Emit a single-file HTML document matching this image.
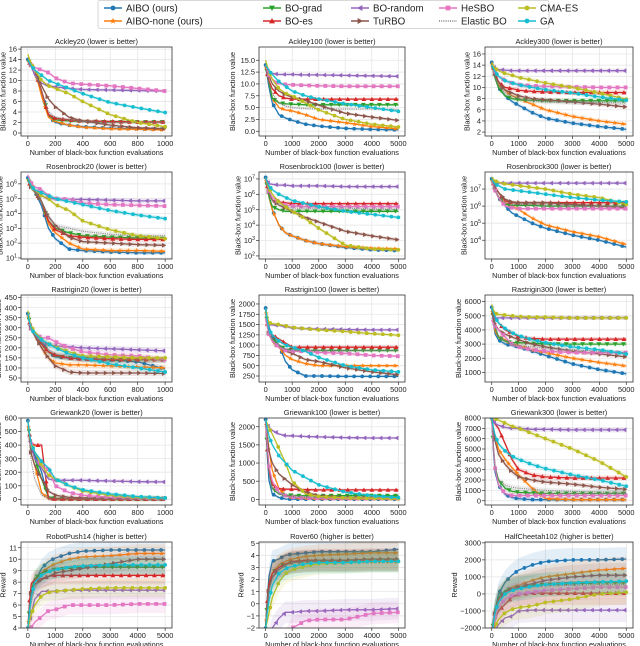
<!DOCTYPE html>
<html><head><meta charset="utf-8"><style>
html,body{margin:0;padding:0;background:#fff}
svg{display:block;font-family:"Liberation Sans","DejaVu Sans",sans-serif}
</style></head><body>
<svg id="fig" width="640" height="646" viewBox="0 0 640 646" xmlns="http://www.w3.org/2000/svg"></svg>
<script>
const seriesNames=["AIBO (ours)","AIBO-none (ours)","BO-grad","BO-es","BO-random","TuRBO","HeSBO","Elastic BO","CMA-ES","GA"];
const seriesColors=["#1f77b4","#ff7f0e","#2ca02c","#d62728","#9467bd","#8c564b","#e377c2","#7f7f7f","#bcbd22","#17becf"];
const seriesMarkers=["circle","star","tdown","tup","tleft","tright","square","none","circle","circle"];
const xFractions=[0,0.02,0.05,0.1,0.15,0.2,0.3,0.4,0.6,0.8,1.0];
const panelTitles=["Ackley20 (lower is better)","Ackley100 (lower is better)","Ackley300 (lower is better)","Rosenbrock20 (lower is better)","Rosenbrock100 (lower is better)","Rosenbrock300 (lower is better)","Rastrigin20 (lower is better)","Rastrigin100 (lower is better)","Rastrigin300 (lower is better)","Griewank20 (lower is better)","Griewank100 (lower is better)","Griewank300 (lower is better)","RobotPush14 (higher is better)","Rover60 (higher is better)","HalfCheetah102 (higher is better)"];
const panelXMax=[1000,5000,5000,1000,5000,5000,1000,5000,5000,1000,5000,5000,5000,5000,5000];
const panelLog=[0,0,0,1,1,1,0,0,0,0,0,0,0,0,0];
const panelYMin=[-0.57,-1,1.3,0.93,1.8,2.9,30,104,320,-42,-155,-417,4,-2,-2000];
const panelYMax=[16.4,17.8,17.25,6.8,7.45,8.0,463,2218,6470,600,2240,8000,11.5,5.1,3050];
const panelYTicks=[[0,2,4,6,8,10,12,14,16],[0,2.5,5,7.5,10,12.5,15],[2,4,6,8,10,12,14,16],[1,2,3,4,5,6],[2,3,4,5,6,7],[4,5,6,7],[50,100,150,200,250,300,350,400,450],[250,500,750,1000,1250,1500,1750,2000],[1000,2000,3000,4000,5000,6000],[0,100,200,300,400,500,600],[0,500,1000,1500,2000],[0,1000,2000,3000,4000,5000,6000,7000,8000],[4,5,6,7,8,9,10,11],[-2,-1,0,1,2,3,4,5],[-2000,-1000,0,1000,2000,3000]];
const panelYTickLabels=[["0","2","4","6","8","10","12","14","16"],["0.0","2.5","5.0","7.5","10.0","12.5","15.0"],["2","4","6","8","10","12","14","16"],["1","2","3","4","5","6"],["2","3","4","5","6","7"],["4","5","6","7"],["50","100","150","200","250","300","350","400","450"],["250","500","750","1000","1250","1500","1750","2000"],["1000","2000","3000","4000","5000","6000"],["0","100","200","300","400","500","600"],["0","500","1000","1500","2000"],["0","1000","2000","3000","4000","5000","6000","7000","8000"],["4","5","6","7","8","9","10","11"],["\u22122","\u22121","0","1","2","3","4","5"],["\u22122000","\u22121000","0","1000","2000","3000"]];
const panelBand=[0.3,0.3,0.4,0.15,0.12,0.1,15,40,150,15,40,250,0.8,0.9,700];
const panelValues=[
[[14,13,12,8,3.2,2,1.5,1.2,0.9,0.8,0.7],[14,13,12,7,3,2.2,1.5,1.1,0.8,0.7,0.6],[14,13,12,8,3.5,2.5,2.3,2.2,2.1,2.1,2.1],[14,13,12,8,3.5,2.8,2.5,2.3,2.2,2.1,2.1],[14,13,11,9.5,9,8.8,8.5,8.3,8.2,8.1,8.0],[14,13,12,9,6.5,5,3,2.3,1.5,1,0.8],[14,13,12.5,12,11.5,10.5,9.5,9.3,9,8.5,8.0],[14,13,12,8,4,3,2.5,2.2,2,2,2],[15,13.5,12,10,9,8.5,7.5,6,3.5,2,1.2],[14,13,12,11,10,9.5,8.5,7.5,5.8,4.8,3.9]],
[[14,10,6,3.5,2.8,2.3,1.5,1.1,0.6,0.4,0.3],[14,11,7,5,4.5,4.3,3.5,2.5,1.8,1,0.5],[14,11,7,6,5.8,5.7,5.6,5.6,5.6,5.6,5.6],[14,11,9,7.5,7,6.8,6.8,6.8,6.8,6.8,6.8],[14,12.5,12.2,12,12,12,11.9,11.9,11.8,11.7,11.6],[14,12,10,8.5,7.7,7.2,6.5,5.5,3.8,3,2.3],[14,12,11,10,9.9,9.8,9.7,9.6,9.5,9.5,9.5],[14,11,8,6,5.3,5,4.8,4.7,4.7,4.7,4.6],[15,13,11,9,8,7.5,6,4.5,2.5,1.5,0.9],[14,13,12,10.5,9.5,8.5,7.5,6.8,5.8,5,4.2]],
[[14.5,12,10,8.5,7.5,6.8,5.5,4.5,3.6,3.0,2.5],[14.5,12,10.5,9.5,8.5,8,7,6,4.8,4,3.4],[14.5,12,10,8.5,8,7.8,7.7,7.6,7.6,7.6,7.6],[14.5,13,11,10,9.8,9.5,9.3,9.2,9.1,9.1,9.1],[14,13.5,13.2,13.1,13,13,13,13,13,13,13],[14,12.5,11,9.5,9,8.5,8,7.8,7.4,7,6.5],[14,13,12,11.2,10.8,10.5,10.3,10.2,10.1,10,10],[14,12,10.5,9,8.5,8,7.6,7.4,7.3,7.3,7.2],[14.5,13.5,13,12.5,12.2,11.8,11.3,10.8,10,9,7.9],[14,13,12,11.2,10.8,10.5,10,9.6,9,8.3,7.7]],
[[6.4,5.8,5.5,4.5,3,2.3,1.6,1.5,1.4,1.35,1.35],[6.4,5.8,5.5,4.8,3.3,2.7,2,1.6,1.5,1.5,1.45],[6.4,5.8,5.5,4.8,3.5,3,2.7,2.5,2.4,2.35,2.3],[6.4,5.8,5.5,4.8,3.5,2.9,2.5,2.4,2.3,2.25,2.25],[6.4,6,5.6,5.2,5.0,5.0,4.95,4.95,4.9,4.85,4.85],[6.4,5.8,5.5,4.8,3.8,3.2,2.4,2.1,2,1.9,1.85],[6.6,6.1,5.8,5.6,5.2,5,4.95,4.7,4.6,4.55,4.5],[6.4,5.8,5.5,4.8,3.8,3.2,3,2.8,2.6,2.5,2.5],[6.4,5.9,5.6,5.2,5,4.6,4.2,3.5,2.9,2.5,2.3],[6.4,5.9,5.6,5.4,5.2,5,4.8,4.6,4.2,3.9,3.65]],
[[7.1,6,5,4,3.5,3.3,3,2.8,2.55,2.4,2.35],[7.1,6,5,4,3.5,3.3,3,2.8,2.6,2.5,2.45],[7.1,6,5.2,5,4.9,4.9,4.9,4.9,4.9,4.9,4.9],[7.1,6.2,5.6,5.5,5.45,5.4,5.4,5.4,5.4,5.4,5.4],[7.1,6.7,6.65,6.6,6.6,6.55,6.55,6.55,6.5,6.5,6.5],[7.1,6.2,5.6,5.3,5.1,4.9,4.5,4.2,3.6,3.3,3.05],[7.1,6.3,5.8,5.5,5.3,5.25,5.2,5.2,5.2,5.2,5.2],[7.1,6.2,5.6,5.3,5.2,5.1,5.1,5.1,5.1,5.05,5.05],[7.1,6.5,6,5.5,5.2,4.9,4.4,3.8,2.7,2.45,2.4],[7.1,6.6,6.3,6,5.8,5.6,5.4,5.2,4.9,4.7,4.5]],
[[7.6,7,6.5,6,5.6,5.4,5,4.7,4.3,4,3.6],[7.6,7,6.5,6.2,6,5.8,5.3,4.9,4.5,4.2,3.75],[7.6,7,6.5,6.1,6.05,6.05,6.05,6,6,6,6],[7.6,7.2,6.8,6.3,6.2,6.2,6.2,6.2,6.2,6.2,6.2],[7.4,7.35,7.35,7.35,7.35,7.35,7.35,7.35,7.35,7.35,7.35],[7.6,7.1,6.8,6.4,6.25,6.2,6.2,6.2,6.1,6,5.9],[7.5,7,6.5,6,5.9,5.85,5.85,5.85,5.85,5.85,5.85],[7.6,7,6.6,6.2,6.1,6.1,6.1,6.05,6,6,6],[7.7,7.5,7.4,7.3,7.25,7.2,7.1,7,6.7,6.5,6.1],[7.6,7.3,7.2,7.0,6.95,6.9,6.8,6.7,6.5,6.35,6.25]],
[[370,300,270,230,180,155,150,145,140,130,95],[370,300,270,200,150,125,115,115,110,105,100],[370,300,270,220,180,160,150,145,140,140,140],[370,300,270,220,180,165,150,145,142,142,142],[370,300,270,230,215,210,205,200,195,190,185],[370,300,260,200,150,110,80,75,75,75,72],[370,300,270,250,250,230,200,180,165,160,140],[370,300,270,230,190,170,155,150,145,140,138],[385,310,280,240,220,205,180,160,155,150,150],[370,300,270,240,220,200,170,150,120,100,80]],
[[1900,1500,1200,1000,600,400,250,250,240,240,240],[1900,1300,1100,950,750,650,550,500,500,500,500],[1900,1300,1150,1000,900,880,870,870,870,870,870],[1900,1300,1250,1150,1050,950,950,950,950,950,950],[1600,1500,1490,1480,1450,1420,1400,1390,1380,1370,1370],[1900,1300,1100,950,850,800,650,600,450,350,280],[1650,1300,1100,950,870,850,850,820,800,750,730],[1900,1300,1150,1000,900,880,880,870,870,870,870],[1900,1550,1520,1500,1470,1430,1400,1370,1330,1280,1240],[1900,1400,1250,1100,1000,950,850,700,500,400,350]],
[[5600,3800,3300,3000,2900,2800,2500,2200,1600,1200,900],[5600,4000,3500,3300,3000,2900,2600,2400,2000,1700,1450],[5600,4300,3500,3200,3100,3100,3050,3000,3000,3000,3000],[5600,5000,4500,4000,3800,3500,3400,3350,3350,3350,3350],[4800,4850,4850,4850,4850,4850,4850,4850,4850,4850,4850],[5600,4500,4000,3700,3500,3300,3000,2800,2500,2300,2100],[4700,4300,4000,3500,3000,2800,2600,2500,2400,2400,2400],[5600,4300,3600,3200,3000,2900,2800,2700,2600,2500,2400],[5800,5200,5100,5050,5000,4950,4900,4900,4850,4850,4850],[5600,5000,4500,4100,3800,3600,3300,3100,2800,2600,2300]],
[[580,400,330,200,5,2,1,1,1,1,1],[580,350,250,50,3,2,1,1,1,1,1],[580,400,300,150,20,5,3,3,2,2,2],[580,420,400,400,5,3,3,3,2,2,2],[580,400,300,230,150,140,140,140,135,130,128],[580,350,250,150,60,30,15,10,8,6,5],[580,420,350,250,220,100,50,30,15,10,8],[580,300,150,30,10,5,3,3,2,2,2],[580,420,350,250,180,150,100,60,30,15,10],[580,420,350,280,230,150,100,70,40,20,10]],
[[2200,600,150,50,10,5,5,5,5,5,5],[2200,1500,800,300,100,50,30,20,20,20,20],[2200,900,300,150,120,110,100,100,100,100,100],[2200,900,400,300,280,280,270,260,260,260,260],[2100,2000,1900,1800,1750,1750,1730,1720,1700,1690,1690],[2200,1400,1000,700,550,400,200,100,50,40,30],[2200,1000,500,200,100,60,40,30,20,20,20],[2200,800,300,150,100,80,60,50,40,40,40],[2200,2000,1800,1400,1000,500,150,80,40,30,20],[2200,1800,1500,1200,1000,800,600,400,200,100,50]],
[[8000,3000,1500,600,300,200,100,100,100,100,100],[8000,6500,5000,4000,3200,2500,1200,200,100,100,100],[8000,3500,2000,1200,900,800,750,700,700,700,700],[8000,7500,7000,5500,4000,3000,2500,2300,2200,2200,2200],[8000,7500,7300,7100,7000,7000,6900,6900,6850,6850,6850],[8000,6000,4500,3500,2800,2300,2000,1800,1600,1300,1100],[8000,3500,1500,700,500,500,500,500,500,500,500],[8000,3500,2000,1500,1300,1200,1100,1000,900,850,800],[8000,8000,7800,7500,7200,7000,6500,6000,5000,3800,2300],[8000,6500,5500,4800,4300,4000,3500,3100,2500,2000,1400]],
[[4,6.5,8,9.2,9.8,10.1,10.5,10.7,10.8,10.8,10.8],[4,6.5,8,8.8,9.3,9.6,10,10.2,10.3,10.5,10.5],[4,7,8.3,8.8,9,9.1,9.2,9.3,9.3,9.3,9.3],[4,7.8,8.2,8.3,8.5,8.6,8.6,8.6,8.6,8.6,8.6],[4,5,6.5,7.2,7.2,7.2,7.3,7.3,7.3,7.3,7.3],[4,7,7.8,8.2,8.5,8.8,9,9.2,9.6,10,10],[3,4,4.5,5,5.5,5.6,6,6,6,6.1,6.1],[4,6,7.5,8.5,9,9.2,9.4,9.5,9.5,9.5,9.5],[4,5,6,6.8,7.1,7.2,7.3,7.4,7.5,7.5,7.5],[4,6.5,8,8.6,8.9,9.1,9.3,9.4,9.5,9.5,9.5]],
[[-2,2,3.5,3.7,4,4.1,4.2,4.3,4.3,4.3,4.5],[-2,1,2.5,3.2,3.5,3.7,3.9,4,4.1,4.2,4.2],[-2,1.5,2.5,3,3.3,3.4,3.5,3.5,3.5,3.5,3.5],[-2,1.5,2.5,3,3.3,3.5,3.6,3.6,3.6,3.6,3.6],[-3,-3,-2,-1.2,-0.7,-0.7,-0.6,-0.6,-0.5,-0.5,-0.4],[-2,1,2.2,2.8,3.2,3.4,3.5,3.6,3.6,3.7,3.7],[-3,-3,-3,-3,-3,-2,-1.4,-1.3,-1.3,-0.8,-0.7],[-2,1,2,2.8,3.2,3.4,3.5,3.5,3.5,3.6,3.6],[-2,-1,0.5,1.8,2.5,2.8,3.1,3.3,3.4,3.5,3.5],[-2,0,1.5,2.5,2.9,3.1,3.3,3.4,3.4,3.5,3.5]],
[[-2500,-1200,0,700,1100,1400,1700,1900,2000,2000,2050],[-2500,-1200,-500,200,400,500,800,1000,1200,1400,1500],[-2500,-1000,-200,200,300,400,500,550,600,650,650],[-2500,-1500,-1000,-600,-200,0,50,50,50,50,50],[-2500,-2200,-1800,-1400,-1300,-1000,-950,-950,-950,-950,-950],[-2500,-1200,-300,100,300,400,600,800,1000,1100,1100],[-2500,-1500,-800,-300,-100,0,100,200,300,400,400],[-2500,-1200,-500,0,200,300,400,500,500,550,550],[-2500,-2000,-1500,-1100,-900,-800,-700,-500,-300,0,100],[-2500,-1200,-500,0,200,300,450,550,650,700,750]]
];

const NS="http://www.w3.org/2000/svg";
const svg=document.getElementById('fig');
function mk(tag,attrs,parent){const e=document.createElementNS(NS,tag);for(const k in attrs)e.setAttribute(k,attrs[k]);(parent||svg).appendChild(e);return e;}
const colL=[21,259,485],colR=[172,405,633],rowT=[47,172,295,418,542],rowB=[136,259,382,505,628];

function marker(g,type,x,y,c,s){
  let e;
  if(type==="circle"){e=mk('circle',{cx:x,cy:y,r:s},g);}
  else if(type==="square"){e=mk('rect',{x:x-s,y:y-s,width:2*s,height:2*s},g);}
  else if(type==="none"){return;}
  else{
    let pts;
    const r=s*1.25;
    if(type==="tup")pts=[[0,-r],[r,r*0.8],[-r,r*0.8]];
    else if(type==="tdown")pts=[[0,r],[r,-r*0.8],[-r,-r*0.8]];
    else if(type==="tleft")pts=[[-r,0],[r*0.8,-r],[r*0.8,r]];
    else if(type==="tright")pts=[[r,0],[-r*0.8,-r],[-r*0.8,r]];
    else if(type==="star"){pts=[];for(let i=0;i<10;i++){const a=-Math.PI/2+i*Math.PI/5;const rr=i%2?r*0.45:r*1.1;pts.push([rr*Math.cos(a),rr*Math.sin(a)]);}}
    e=mk('polygon',{points:pts.map(p=>(x+p[0]).toFixed(1)+','+(y+p[1]).toFixed(1)).join(' ')},g);
  }
  e.setAttribute('fill',c);
}

function interp(vals,f){
  for(let i=1;i<xFractions.length;i++){if(f<=xFractions[i]){const t=(f-xFractions[i-1])/(xFractions[i]-xFractions[i-1]);return vals[i-1]+t*(vals[i]-vals[i-1]);}}
  return vals[vals.length-1];
}

for(let p=0;p<15;p++){
  const r=Math.floor(p/3),c=p%3;
  const L=colL[c],R=colR[c],T=rowT[r],B=rowB[r];
  const xmax=panelXMax[p];
  const xs=v=>L+(v+0.05*xmax)/(1.1*xmax)*(R-L);
  const ymin=panelYMin[p],ymax=panelYMax[p];
  const ys=v=>B-(v-ymin)/(ymax-ymin)*(B-T);
  const g=mk('g',{});
  
  
  const cid='clip'+p;
  const cp=mk('clipPath',{id:cid},g);mk('rect',{x:L,y:T,width:R-L,height:B-T},cp);
  const xticks=[];for(let v=0;v<=xmax;v+=xmax/5)xticks.push(v);
  const grid=mk('g',{stroke:'#e6e6e6','stroke-width':0.8},g);
  
  xticks.forEach(v=>mk('line',{x1:xs(v),x2:xs(v),y1:T,y2:B},grid));
  panelYTicks[p].forEach(v=>mk('line',{x1:L,x2:R,y1:ys(v),y2:ys(v)},grid));
  const plot=mk('g',{'clip-path':'url(#'+cid+')'},g);
  const band=panelBand[p];
  const N=80;
  panelValues[p].forEach((vals,si)=>{
    const col=seriesColors[si];
    const up=[],dn=[],ln=[];
    for(let k=0;k<=N;k++){const f=k/N;const v=interp(vals,f);const x=xs(f*xmax);ln.push([x,ys(v)]);up.push([x,ys(v+band)]);dn.push([x,ys(v-band)]);}
    const bd=mk('polygon',{points:up.concat(dn.reverse()).map(q=>q[0].toFixed(1)+','+q[1].toFixed(1)).join(' '),fill:col,'fill-opacity':r===4?0.12:0.15,stroke:'none'},plot);
    
    
    const pl=mk('polyline',{points:ln.map(q=>q[0].toFixed(1)+','+q[1].toFixed(1)).join(' '),fill:'none',stroke:col,'stroke-width':1.3},plot);
    if(si===7){pl.setAttribute('stroke-dasharray','1,1.2');pl.setAttribute('stroke-width',1);}
    
    
    const mg=mk('g',{},plot);
    
    
    for(let k=0;k<=16;k++){const f=Math.min(1,(k+si*0.07)/16*0.97);marker(mg,seriesMarkers[si],xs(f*xmax),ys(interp(vals,f)),col,1.9);}
  });
  const fr=mk('rect',{x:L,y:T,width:R-L,height:B-T,fill:'none',stroke:'#333','stroke-width':0.8},g);
  
  xticks.forEach(v=>{
    mk('line',{x1:xs(v),x2:xs(v),y1:B,y2:B+3,stroke:'#333','stroke-width':0.7},g);
    const t=mk('text',{x:xs(v),y:B+10,'font-size':7.4,'text-anchor':'middle',fill:'#222'},g);t.textContent=String(Math.round(v));
    
  });
  let maxW=0;
  panelYTicks[p].forEach((v,i)=>{
    mk('line',{x1:L-3,x2:L,y1:ys(v),y2:ys(v),stroke:'#333','stroke-width':0.7},g);
    const t=mk('text',{x:L-4,y:ys(v)+2.6,'font-size':7.4,'text-anchor':'end',fill:'#222'},g);
    if(panelLog[p]){t.textContent='10';const s=mk('tspan',{dy:-3,'font-size':5.2},t);s.textContent=panelYTickLabels[p][i];}
    else t.textContent=panelYTickLabels[p][i];
    
    const w=panelLog[p]?11:panelYTickLabels[p][i].length*4.1;
    if(w>maxW)maxW=w;
  });
  const tt=mk('text',{x:(L+R)/2,y:T-3,'font-size':7.4,'text-anchor':'middle',fill:'#222'},g);tt.textContent=panelTitles[p];
  
  const xl=mk('text',{x:(L+R)/2,y:B+19,'font-size':7.3,'text-anchor':'middle',fill:'#222'},g);xl.textContent='Number of black-box function evaluations';
  
  const yx=L-4-maxW-3.5,yy=(T+B)/2;
  const yl=mk('text',{x:yx,y:yy,'font-size':7.3,'text-anchor':'middle',fill:'#222',transform:'rotate(-90 '+yx+' '+yy+')'},g);
  yl.textContent=r===4?'Reward':'Black-box function value';
  
}

const lg=mk('g',{});

mk('rect',{x:98,y:0.5,width:451,height:28,rx:2,fill:'#fff',stroke:'#ccc','stroke-width':0.8},lg);
const legX=[104,263,351,439,518];
const legOrder=[[0,1],[2,3],[4,5],[6,7],[8,9]];
legOrder.forEach((pair,ci)=>pair.forEach((si,ri)=>{
  const y=ri?21:8;
  const e=mk('g',{},lg);
  
  
  const ln=mk('line',{x1:legX[ci],x2:legX[ci]+18,y1:y,y2:y,stroke:seriesColors[si],'stroke-width':1.4},e);
  if(si===7)ln.setAttribute('stroke-dasharray','1,1.2');
  marker(e,seriesMarkers[si],legX[ci]+9,y,seriesColors[si],2.4);
  const t=mk('text',{x:legX[ci]+22,y:y+3.5,'font-size':9.8,fill:'#222'},e);t.textContent=seriesNames[si];
}));
</script>
</body></html>
